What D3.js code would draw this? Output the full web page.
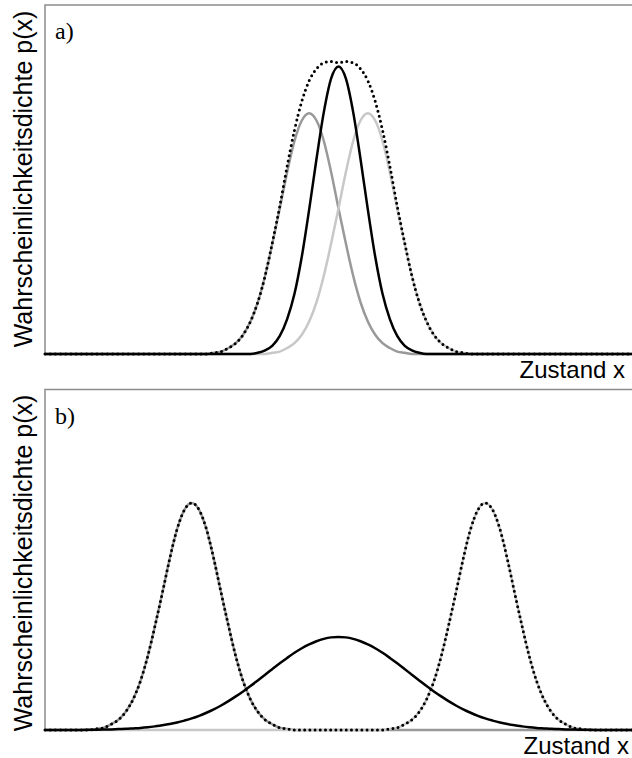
<!DOCTYPE html>
<html>
<head>
<meta charset="utf-8">
<script src="https://cdn.jsdelivr.net/npm/d3@7/dist/d3.min.js"></script>
<style>
  html, body { margin: 0; padding: 0; background: #fff; }
  svg { display: block; }
</style>
</head>
<body>
<script>
// ---- Panel a): two component densities, their mixture, and the narrow combined density
// sampled at x = -5 ... 5 in steps of 0.25 (zero outside)
const gridStepA = 0.25, gridStartA = -5;
const compLeftA = [0.000, 0.000, 0.000, 0.001, 0.002, 0.005, 0.009, 0.016, 0.027, 0.043,
  0.065, 0.092, 0.121, 0.151, 0.177, 0.194, 0.200, 0.194, 0.177, 0.151,
  0.121, 0.092, 0.065, 0.043, 0.027, 0.016, 0.009, 0.005, 0.002, 0.001,
  0.000, 0.000, 0.000, 0.000, 0.000, 0.000, 0.000, 0.000, 0.000, 0.000, 0.000];
const compRightA = [0.000, 0.000, 0.000, 0.000, 0.000, 0.000, 0.000, 0.000, 0.000, 0.000,
  0.000, 0.001, 0.002, 0.005, 0.009, 0.016, 0.027, 0.043, 0.065, 0.092,
  0.121, 0.151, 0.177, 0.194, 0.200, 0.194, 0.177, 0.151, 0.121, 0.092,
  0.065, 0.043, 0.027, 0.016, 0.009, 0.005, 0.002, 0.001, 0.000, 0.000, 0.000];
const mixtureA = [0.000, 0.000, 0.000, 0.001, 0.002, 0.005, 0.009, 0.016, 0.027, 0.043,
  0.065, 0.093, 0.123, 0.156, 0.186, 0.210, 0.227, 0.237, 0.242, 0.243,
  0.242, 0.243, 0.242, 0.237, 0.227, 0.210, 0.186, 0.156, 0.123, 0.093,
  0.065, 0.043, 0.027, 0.016, 0.009, 0.005, 0.002, 0.001, 0.000, 0.000, 0.000];
const combinedA = [0.000, 0.000, 0.000, 0.000, 0.000, 0.000, 0.000, 0.000, 0.000, 0.001,
  0.003, 0.007, 0.015, 0.029, 0.050, 0.081, 0.120, 0.162, 0.201, 0.229,
  0.239, 0.229, 0.201, 0.162, 0.120, 0.081, 0.050, 0.029, 0.015, 0.007,
  0.003, 0.001, 0.000, 0.000, 0.000, 0.000, 0.000, 0.000, 0.000, 0.000, 0.000];

// ---- Panel b): two separated component densities, their mixture, and one broad density
// sampled at x = -10 ... 10 in steps of 0.25
const gridStepB = 0.25, gridStartB = -10;
const compLeftB = [0.000, 0.000, 0.000, 0.000, 0.000, 0.000, 0.000, 0.001, 0.002, 0.005,
  0.009, 0.016, 0.027, 0.043, 0.065, 0.092, 0.121, 0.151, 0.177, 0.194,
  0.200, 0.194, 0.177, 0.151, 0.121, 0.092, 0.065, 0.043, 0.027, 0.016,
  0.009, 0.005, 0.002, 0.001, 0.000, 0.000, 0.000, 0.000, 0.000, 0.000,
  0.000, 0.000, 0.000, 0.000, 0.000, 0.000, 0.000, 0.000, 0.000, 0.000,
  0.000, 0.000, 0.000, 0.000, 0.000, 0.000, 0.000, 0.000, 0.000, 0.000,
  0.000, 0.000, 0.000, 0.000, 0.000, 0.000, 0.000, 0.000, 0.000, 0.000,
  0.000, 0.000, 0.000, 0.000, 0.000, 0.000, 0.000, 0.000, 0.000, 0.000, 0.000];
const compRightB = [0.000, 0.000, 0.000, 0.000, 0.000, 0.000, 0.000, 0.000, 0.000, 0.000,
  0.000, 0.000, 0.000, 0.000, 0.000, 0.000, 0.000, 0.000, 0.000, 0.000,
  0.000, 0.000, 0.000, 0.000, 0.000, 0.000, 0.000, 0.000, 0.000, 0.000,
  0.000, 0.000, 0.000, 0.000, 0.000, 0.000, 0.000, 0.000, 0.000, 0.000,
  0.000, 0.000, 0.000, 0.000, 0.000, 0.000, 0.000, 0.001, 0.002, 0.005,
  0.009, 0.016, 0.027, 0.043, 0.065, 0.092, 0.121, 0.151, 0.177, 0.194,
  0.200, 0.194, 0.177, 0.151, 0.121, 0.092, 0.065, 0.043, 0.027, 0.016,
  0.009, 0.005, 0.002, 0.001, 0.000, 0.000, 0.000, 0.000, 0.000, 0.000, 0.000];
const mixtureB = [0.000, 0.000, 0.000, 0.000, 0.000, 0.000, 0.000, 0.001, 0.002, 0.005,
  0.009, 0.016, 0.027, 0.043, 0.065, 0.092, 0.121, 0.151, 0.177, 0.194,
  0.200, 0.194, 0.177, 0.151, 0.121, 0.092, 0.065, 0.043, 0.027, 0.016,
  0.009, 0.005, 0.002, 0.001, 0.000, 0.000, 0.000, 0.000, 0.000, 0.000,
  0.000, 0.000, 0.000, 0.000, 0.000, 0.000, 0.000, 0.001, 0.002, 0.005,
  0.009, 0.016, 0.027, 0.043, 0.065, 0.092, 0.121, 0.151, 0.177, 0.194,
  0.200, 0.194, 0.177, 0.151, 0.121, 0.092, 0.065, 0.043, 0.027, 0.016,
  0.009, 0.005, 0.002, 0.001, 0.000, 0.000, 0.000, 0.000, 0.000, 0.000, 0.000];
const broadB = [0.0000, 0.0000, 0.0001, 0.0001, 0.0001, 0.0001, 0.0002, 0.0003, 0.0004, 0.0005,
  0.0008, 0.0010, 0.0014, 0.0018, 0.0024, 0.0032, 0.0041, 0.0052, 0.0066, 0.0083,
  0.0102, 0.0125, 0.0152, 0.0182, 0.0216, 0.0254, 0.0296, 0.0340, 0.0387, 0.0437,
  0.0487, 0.0538, 0.0588, 0.0635, 0.0680, 0.0720, 0.0754, 0.0782, 0.0803, 0.0816,
  0.0820,
  0.0816, 0.0803, 0.0782, 0.0754, 0.0720, 0.0680, 0.0635, 0.0588, 0.0538, 0.0487,
  0.0437, 0.0387, 0.0340, 0.0296, 0.0254, 0.0216, 0.0182, 0.0152, 0.0125, 0.0102,
  0.0083, 0.0066, 0.0052, 0.0041, 0.0032, 0.0024, 0.0018, 0.0014, 0.0010, 0.0008,
  0.0005, 0.0004, 0.0003, 0.0002, 0.0001, 0.0001, 0.0001, 0.0001, 0.0000, 0.0000];

const xDomain = [-10, 10];
const yLabelText = "Wahrscheinlichkeitsdichte p(x)";
const xLabelText = "Zustand x";
const panelTags = ["a)", "b)"];

// ---- drawing
const W = 632, H = 758;
const svg = d3.select("body").append("svg").attr("width", W).attr("height", H);

const GRAY = "#999999", LIGHT = "#c8c8c8", FRAME = "#8c8c8c";

function toPoints(values, start, step) {
  const pts = values.map((v, i) => [start + i * step, v]);
  // the densities are zero outside the sampled interval
  if (pts[0][0] > xDomain[0]) pts.unshift([xDomain[0], 0]);
  if (pts[pts.length - 1][0] < xDomain[1]) pts.push([xDomain[1], 0]);
  return pts;
}

function panel(cfg) {
  const g = svg.append("g");
  const x = d3.scaleLinear().domain(xDomain).range([cfg.left, cfg.right]);
  const y = d3.scaleLinear().domain([0, cfg.yMax]).range([cfg.bottom, cfg.top]);
  const line = d3.line().x(d => x(d[0])).y(d => y(d[1])).curve(d3.curveMonotoneX);

  // frame: top and left edges
  g.append("path")
    .attr("d", `M${cfg.left},${cfg.bottom}V${cfg.top}H${W}`)
    .attr("fill", "none").attr("stroke", FRAME).attr("stroke-width", 1.5);

  cfg.series.forEach(s => {
    const p = g.append("path")
      .attr("d", line(toPoints(s.values, cfg.start, cfg.step)))
      .attr("fill", "none")
      .attr("stroke", s.color)
      .attr("stroke-width", s.width)
      .attr("stroke-linejoin", "round");
    if (s.dotted) {
      p.attr("stroke-dasharray", "0 5.2").attr("stroke-linecap", "round");
    }
  });

  g.append("text")
    .attr("x", cfg.left + 10).attr("y", cfg.tagY)
    .attr("font-family", "'Liberation Serif', 'Times New Roman', serif")
    .attr("font-size", 24).attr("fill", "#000")
    .text(cfg.tag);

  g.append("text")
    .attr("x", cfg.xLabelX).attr("y", cfg.xLabelY)
    .attr("text-anchor", "end")
    .attr("font-family", "'Liberation Sans', Arial, sans-serif")
    .attr("font-size", 24).attr("fill", "#000")
    .text(xLabelText);

  g.append("text")
    .attr("transform", `translate(32,${cfg.yLabelMid}) rotate(-90)`)
    .attr("text-anchor", "middle")
    .attr("font-family", "'Liberation Sans', Arial, sans-serif")
    .attr("font-size", 25).attr("fill", "#000")
    .text(yLabelText);
}

panel({
  left: 45, right: 632, top: 5, bottom: 354, yMax: 0.29,
  start: gridStartA, step: gridStepA,
  tag: panelTags[0], tagY: 39,
  xLabelX: 625, xLabelY: 377.5, yLabelMid: 179,
  series: [
    { values: compLeftA, color: GRAY, width: 2.5 },
    { values: compRightA, color: LIGHT, width: 2.5 },
    { values: combinedA, color: "#000", width: 2.5 },
    { values: mixtureA, color: "#000", width: 3, dotted: true }
  ]
});

panel({
  left: 45, right: 632, top: 389.5, bottom: 730, yMax: 0.3,
  start: gridStartB, step: gridStepB,
  tag: panelTags[1], tagY: 424,
  xLabelX: 629, xLabelY: 754, yLabelMid: 563,
  series: [
    { values: compLeftB, color: GRAY, width: 2.5 },
    { values: compRightB, color: LIGHT, width: 2.5 },
    { values: broadB, color: "#000", width: 2.5 },
    { values: mixtureB, color: "#000", width: 3, dotted: true }
  ]
});
</script>
</body>
</html>
